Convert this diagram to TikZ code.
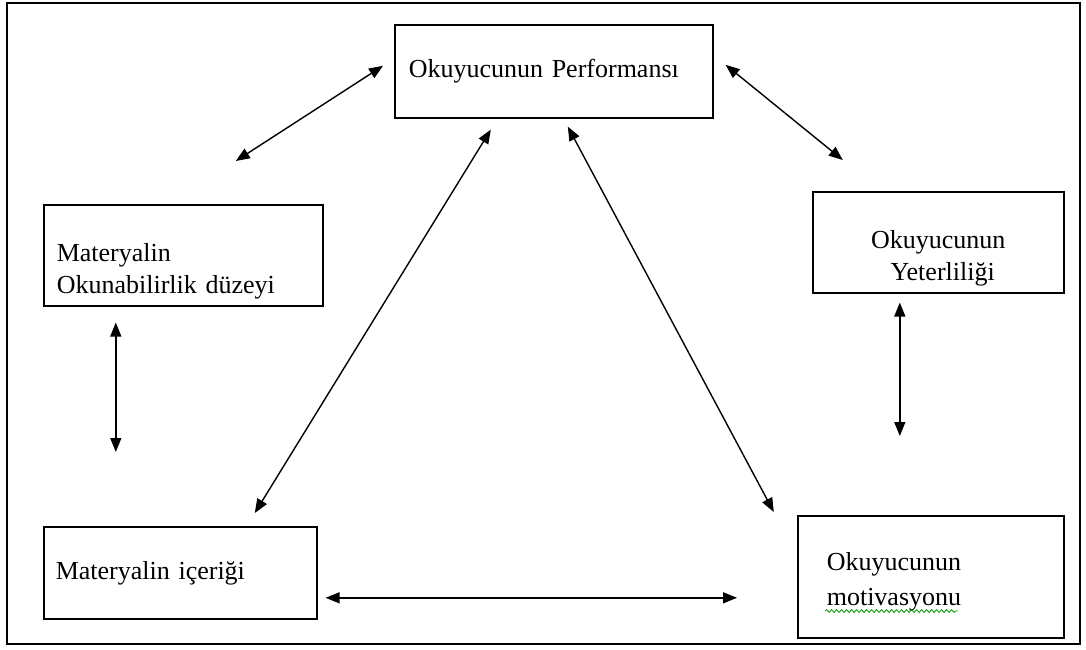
\documentclass[tikz,border=0pt]{standalone}
\usepackage{fontspec}
\setmainfont{Liberation Serif}
\usetikzlibrary{calc,arrows.meta,decorations.pathmorphing}
\tikzset{
    factor box/.style = {
        draw,
        line width=0.8pt,
        rectangle,
        anchor=north west,
        align=left,
        font=\fontsize{13}{16}\selectfont,
        },
    link/.style = {
        {Triangle[length=7pt,width=5.5pt]}-{Triangle[length=7pt,width=5.5pt]},
        line width=0.7pt,
        },
    frame line/.style = {
        line width=1pt,
        },
    spell wave/.style = {
        draw=green!60!black,
        line width=0.4pt,
        decorate,
        decoration={snake, segment length=2.5pt, amplitude=0.7pt},
        },
}
\begin{document}
\begin{tikzpicture}[x=0.5pt,y=-0.5pt]
    \useasboundingbox (0,0) rectangle (1086,649);
    \draw[frame line] (7,3) rectangle (1080,644);

    \node[factor box, text width=145pt, inner xsep=7pt, minimum height=46.5pt] (perf) at (394,24) {Okuyucunun Performansı};
    \node[factor box, text width=126.5pt, inner xsep=6.5pt, minimum height=46.5pt] (okb) at (43,204) {\rule{0pt}{25pt}Materyalin\\Okunabilirlik düzeyi};
    \node[factor box, text width=113.5pt, inner xsep=6pt, minimum height=46.5pt, align=center] (yet) at (812,191) {\rule{0pt}{25pt}Okuyucunun\\\ Yeterliliği};
    \node[factor box, text width=124.5pt, inner xsep=6pt, minimum height=46pt] (icer) at (43,526) {Materyalin içeriği};
    \node[factor box, text width=104pt, inner xsep=14.5pt, minimum height=61pt, font=\fontsize{13}{17.5}\selectfont] (mot) at (797,515) {\rule{0pt}{14pt}Okuyucunun\\motivasyonu};
    % spell-check wave under the second line
    \draw[spell wave] ($(mot.north west)+(28,96)$) -- ($(mot.north west)+(161,96)$);

    \draw[link] ($(perf.west)+(-11,-5.5)$) -- ($(okb.north)+(52.5,-43)$);
    \draw[link] ($(perf.east)+(12,-6.5)$) -- ($(yet.north)+(-95.5,-31)$);
    \draw[link] ($(perf.south)+(-63,11)$) -- ($(icer.north)+(74.5,-13)$);
    \draw[link] ($(perf.south)+(14,8)$) -- ($(mot.north)+(-157,-3)$);
    \draw[link] ($(okb.south)+(-67.5,16)$) -- ($(icer.north)+(-64.5,-74)$);
    \draw[link] ($(yet.south)+(-38.5,9)$) -- ($(mot.north)+(-31,-79)$);
    \draw[link] ($(icer.east)+(8,25)$) -- ($(mot.west)+(-60,21)$);
\end{tikzpicture}
\end{document}
